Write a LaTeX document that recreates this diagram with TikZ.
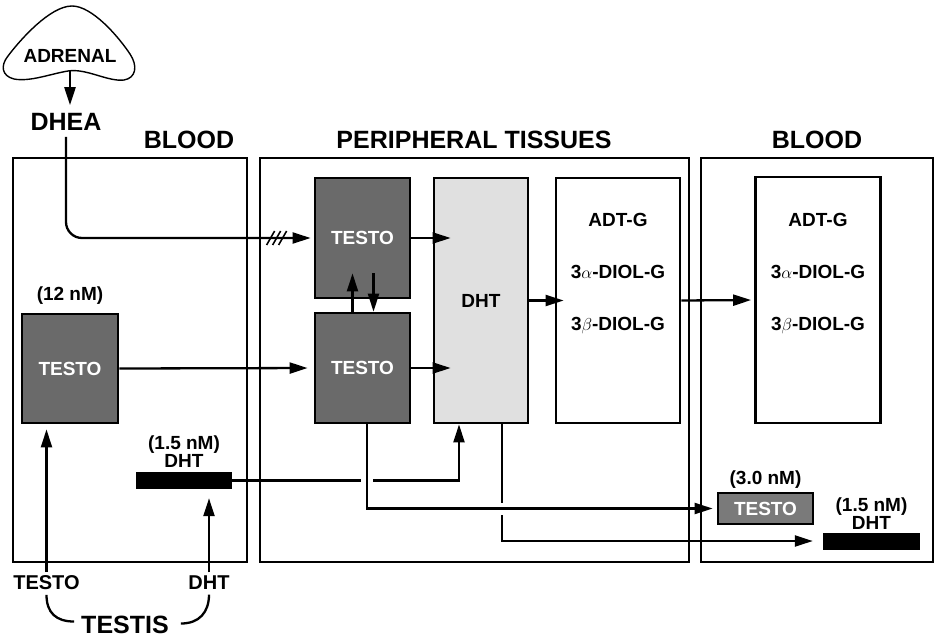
\documentclass[tikz,border=0pt]{standalone}
\usepackage{fontspec}
\setmainfont{Liberation Sans}
\usepackage{tikz}
\usetikzlibrary{arrows.meta,calc}
\definecolor{testogray}{HTML}{6A6A6A}
\definecolor{dhtgray}{HTML}{E0E0E0}
\definecolor{smallgray}{HTML}{7A7A7A}

\begin{document}
\begin{tikzpicture}[x=1pt,y=-1pt,
  lbl/.style={font=\bfseries\fontsize{19}{17}\selectfont,inner sep=0pt,align=center},
  head/.style={font=\bfseries\fontsize{25}{27}\selectfont,inner sep=0pt},
  region/.style={draw,line width=2.3pt,anchor=north west,inner sep=0pt},
  cellbox/.style={draw,line width=2.8pt,inner sep=0pt,font=\bfseries\fontsize{19}{17}\selectfont},
  testobox/.style={cellbox,fill=testogray,text=white},
  dhtbar/.style={fill=black,inner sep=0pt,minimum width=96pt,minimum height=17pt},
  conn/.style={line width=2.3pt},
  arr/.style={conn,-{Triangle[length=18pt,width=11pt]}}]
  \useasboundingbox (0,0) rectangle (939,640);

  \node[region,minimum width=234pt,minimum height=404pt] (bloodL) at (12,157) {};
  \node[region,minimum width=429pt,minimum height=404pt] (periph) at (259,157) {};
  \node[region,minimum width=232pt,minimum height=404pt] (bloodR) at (700,157) {};
  \node[head] (hbloodL) at (189,140) {BLOOD};
  \node[head] (hperiph) at (474,140) {PERIPHERAL TISSUES};
  \node[head] (hbloodR) at (817,140) {BLOOD};

  \node[testobox,minimum width=96pt,minimum height=109pt] (ltesto) at (70,368.5) {TESTO};
  \node[lbl,above=8pt] (ltestolbl) at (ltesto.north) {(12 nM)};
  \node[testobox,minimum width=95pt,minimum height=120pt] (ptestoA) at (362.5,238) {TESTO};
  \node[testobox,minimum width=95pt,minimum height=110pt] (ptestoB) at (362.5,368) {TESTO};
  \node[cellbox,fill=dhtgray,minimum width=94pt,minimum height=245pt] (dht) at (481,300.5) {DHT};
  \node[cellbox,minimum width=124pt,minimum height=245pt] (pconj) at (618,300.5) {};
  \node[lbl,font=\bfseries\fontsize{19}{52}\selectfont] (pconjtxt) at (618,274)
    {ADT-G\\3$\alpha$-DIOL-G\\3$\beta$-DIOL-G};
  \node[cellbox,minimum width=125pt,minimum height=246pt] (bconj) at (818,300) {};
  \node[lbl,font=\bfseries\fontsize{19}{52}\selectfont] (bconjtxt) at (818,273.5)
    {ADT-G\\3$\alpha$-DIOL-G\\3$\beta$-DIOL-G};

  \node[dhtbar] (ldht) at (184,480.5) {};
  \node[lbl,above=4pt] (ldhtlbl) at (ldht.north) {(1.5 nM)\\DHT};
  \node[testobox,fill=smallgray,minimum width=95pt,minimum height=31pt] (rtesto) at (765.5,508.5) {TESTO};
  \node[lbl,above=3pt] (rtestolbl) at (rtesto.north) {(3.0 nM)};
  \node[dhtbar,minimum width=97pt] (rdht) at (871.5,541) {};
  \node[lbl,above=3pt] (rdhtlbl) at (rdht.north) {(1.5 nM)\\DHT};

  \node[lbl,inner ysep=8pt] (adrenal) at (70,55.5) {ADRENAL};
  \draw[line width=1.4pt] (68,71) .. controls (50,74) and (30,82) .. (14,79)
    .. controls (2,76) and (0,66) .. (8,56) .. controls (20,40) and (50,6) .. (72,6)
    .. controls (92,6) and (118,36) .. (130,54) .. controls (138,66) and (136,78) .. (124,80)
    .. controls (108,82) and (86,68) .. (68,71) -- cycle;
  \node[head] (dhea) at (66,122) {DHEA};
  \node[lbl,font=\bfseries\fontsize{20}{22}\selectfont] (tetesto) at (46.5,582.5) {TESTO};
  \node[lbl,font=\bfseries\fontsize{20}{22}\selectfont] (tedht) at (209,582.5) {DHT};
  \node[head] (testis) at (125,624.5) {TESTIS};

  \draw[arr,shorten >=8pt] (adrenal.south) -- (adrenal.south |- dhea.north);
  \draw[arr,rounded corners=16pt,shorten <=6pt,shorten >=3pt] (dhea.south) |- (ptestoA.west);
  \foreach \dx in {-47,-41,-35}
    \draw[line width=1.6pt] ([xshift=\dx pt,yshift=-7pt]ptestoA.west) -- ++(8pt,14pt);
  \draw[arr] (ptestoA.east) -- ([xshift=18pt]ptestoA.east -| dht.west);
  \draw[arr] (ptestoB.east) -- ([xshift=18pt]ptestoB.east -| dht.west);
  \draw[arr,shorten >=6pt] (ltesto.east) -- (ptestoB.west);
  \draw[arr] ([xshift=-10pt]ptestoB.north) -- ([xshift=-10pt,yshift=26pt]ptestoA.south);
  \draw[arr] ([xshift=11pt,yshift=26pt]ptestoA.south) -- ([xshift=11pt]ptestoB.north);
  \draw[arr] (dht.east) -- ([xshift=9pt]pconj.west);
  \draw[arr,shorten >=3pt] (pconj.east) -- (bconj.west);

  \draw[arr] (ldht.east) -| ([xshift=-22pt]dht.south);
  \draw[arr,shorten >=10pt] ([xshift=21pt]dht.south) |- (rdht.west);
  \coordinate (crossA) at ($(ptestoB.south |- ldht.east)+(4.5,0)$);
  \coordinate (crossB) at ($(dht.south |- rtesto.west)+(21,0)$);
  \fill[white] ($(crossA)+(-6,-4)$) rectangle ($(crossA)+(6,4)$);
  \fill[white] ($(crossB)+(-4,-6)$) rectangle ($(crossB)+(4,6)$);
  \draw[arr,shorten >=4pt] ([xshift=4.5pt]ptestoB.south) |- (rtesto.west);

  \draw[arr,shorten <=3pt,shorten >=5pt] (tetesto.north) -- (tetesto.north |- ltesto.south);
  \draw[arr,shorten <=3pt,shorten >=9pt] (tedht.north) -- (tedht.north |- ldht.south);
  \draw[conn] ([yshift=-5pt]tetesto.south) .. controls +(0,18) and +(-18,0) .. ([xshift=-7pt,yshift=3pt]testis.west);
  \draw[conn] ([xshift=12pt,yshift=1pt]testis.east) .. controls +(18,0) and +(0,18) .. ([yshift=-5pt]tedht.south);
\end{tikzpicture}
\end{document}
